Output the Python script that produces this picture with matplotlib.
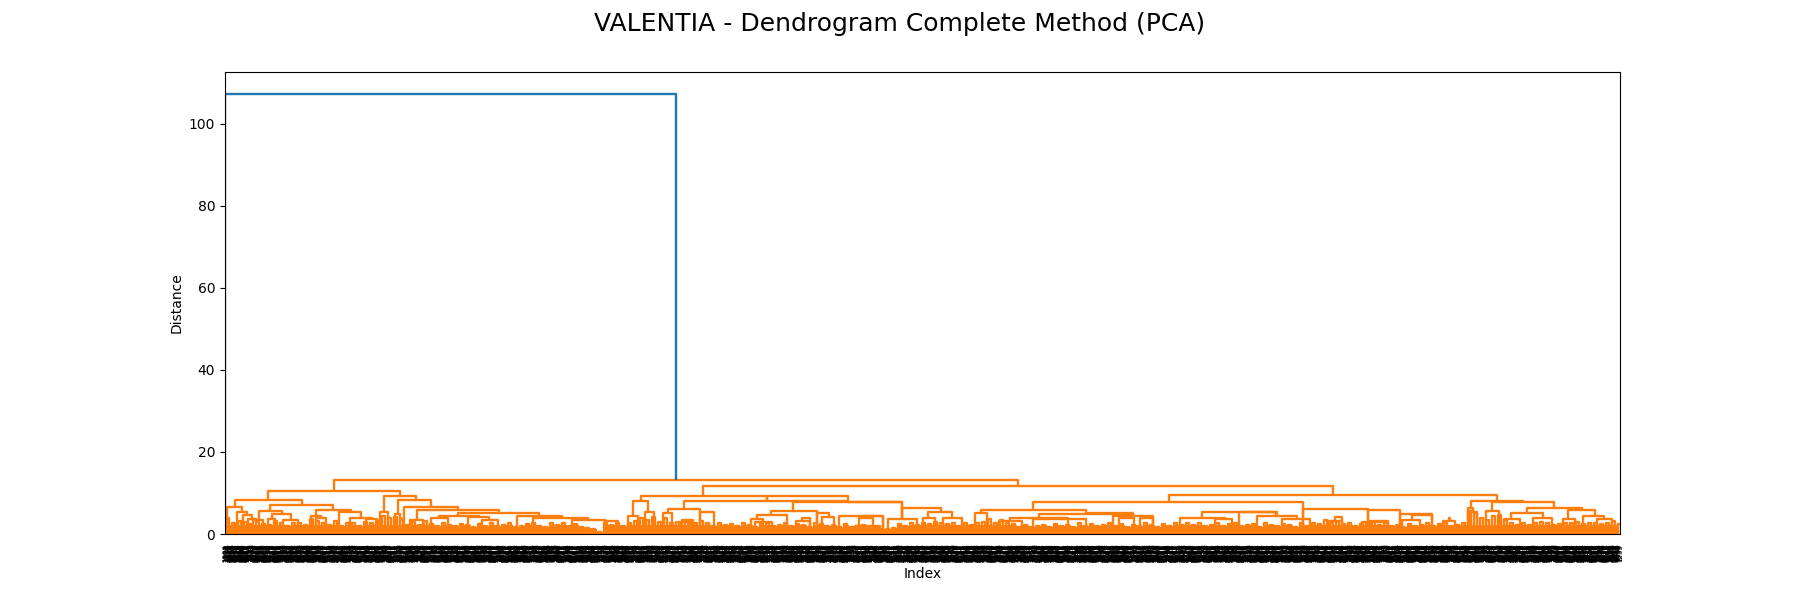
import numpy as np
import matplotlib
matplotlib.use('Agg')
import matplotlib.pyplot as plt
from matplotlib.collections import LineCollection

# all x values are leaf positions along the axis, one leaf = 10 axis units like scipy
n_leaves = 1395
# labels sit closer than the leaf unit, the band under the axis is nearly solid black
n_labels = 2790

# top link, the one above the colour threshold
top_link = [0, 451, 107.3]

# links: left leaf, right leaf, height
link_left = [109, 42.7, 10, 1.7, 45, 33.7, 90.7, 114, 158.7, 155.3, 172.7, 170, 179.3, 191.7, 185.3,
             233.3, 291.7, 214.3, 205.7, 242.7, 256.7, 308.3, 346.7, 380, 11.7, 18.3, 22.7, 28, 46.7,
             43.3, 58.3, 85.7, 90.7, 125, 141,
             477.7, 415.7, 407.7, 402.7, 420, 459, 442.7, 438, 475.3, 460.7, 455,
             567.7, 546, 531.7, 525.7, 530, 591.7, 577.3, 571, 596.7, 636, 614, 634, 663, 630, 676.7,
             703.3, 698, 718, 541.7, 622.7,
             944, 808.3, 756, 750, 861, 814, 785, 774, 808, 887.7, 894, 915,
             1078.3, 1014, 976.7, 955, 990, 1031.7, 1056.7, 1143.3, 1110, 1102.7, 1175, 1145, 1136.7,
             1186.7, 1176.7, 1224.3, 1218,
             1245.7, 1243.3, 1245, 1266.7, 1261, 1301.7, 1285.7, 1279, 1308, 1343, 1338, 1357.7, 1371.7]
link_right = [793, 175, 76.7, 17.3, 108.3, 57, 125.7, 136, 190.7, 162.7, 206, 175.3, 233.3, 274.3, 198.3,
              314.3, 336.7, 254.3, 223.3, 264.3, 272.7, 363.3, 380, 393, 22.3, 26.7, 31, 38, 66,
              50, 73.3, 95.7, 100.7, 146.7, 152,
              1108.3, 541.7, 423.3, 412.7, 429, 622.7, 475.3, 447, 489.3, 468, 468,
              676.7, 591.7, 561.7, 538.3, 546.7, 604.3, 585, 585, 609, 658.3, 658, 648, 691.7, 655, 716,
              727.3, 710, 736.7, 622.7, 676.7,
              1271.7, 1078.3, 861, 762.3, 908.3, 908.3, 843.3, 797, 861, 928.3, 909, 928,
              1143.3, 1051.7, 1051, 1000, 1006.7, 1071.7, 1085, 1175, 1116.7, 1116.7, 1206.7, 1163, 1163,
              1207, 1195, 1225, 1230,
              1298.3, 1248.3, 1252, 1329, 1274, 1356.7, 1318, 1295, 1327, 1370, 1350, 1379.3, 1387]
link_top = [13.25, 10.4, 8.4, 6.6, 7.0, 5.5, 5.85, 5.4, 9.2, 5.4, 8.2, 4.9, 6.7, 5.85, 3.4,
            5.0, 4.5, 4.5, 3.8, 4.1, 3.4, 3.8, 3.4, 3.2, 5.4, 4.6, 3.6, 3.4, 4.9,
            3.6, 3.5, 4.3, 3.8, 4.0, 3.7,
            11.8, 9.2, 8.0, 4.5, 5.4, 8.0, 6.2, 5.0, 5.4, 3.5, 3.0,
            7.7, 5.7, 4.7, 3.7, 3.0, 5.0, 4.0, 3.2, 4.2, 4.5, 4.4, 3.8, 3.7, 1.9, 6.3,
            5.3, 3.9, 4.0, 9.2, 7.9,
            9.6, 7.9, 5.9, 5.0, 5.0, 4.8, 4.0, 3.2, 3.6, 4.3, 3.9, 3.8,
            6.2, 5.3, 5.3, 4.0, 3.7, 4.5, 3.7, 5.85, 4.2, 3.2, 4.8, 3.2, 3.0,
            4.6, 3.4, 3.8, 3.2,
            8.1, 6.4, 5.4, 7.7, 5.7, 6.4, 5.0, 3.7, 3.8, 5.9, 3.7, 4.5, 3.7]

# jagged top of the dense part, one height for every 6 leaves
fine_width = 6
fine_h = [3.8, 2.6, 3.2, 3.0, 2.4, 3.0, 2.4, 2.2, 3.2, 2.6, 2.0, 2.6, 2.6, 2.2, 3.7, 3.2, 2.6, 2.2, 3.2, 2.0,
          2.6, 2.8, 2.0, 3.0, 2.6, 3.2, 4.5, 3.8, 4.2, 3.6, 2.2, 3.0, 2.2, 3.2, 2.4, 2.0, 2.6, 2.2, 2.0, 2.4,
          2.2, 1.8, 2.4, 2.0, 2.6, 1.9, 2.2, 2.6, 1.8, 2.0, 2.4, 2.8, 2.0, 1.8, 2.6, 2.2, 2.8, 2.0, 2.4,
          1.8, 1.5, 1.1, 0.6,
          2.6, 2.2, 2.8, 2.0, 2.6, 3.2, 4.0, 3.4, 4.2, 3.0, 3.8, 2.6, 3.0, 3.4, 2.4, 2.8, 3.2,
          2.6, 2.0, 2.8, 2.2, 2.4, 2.0, 2.6, 2.2, 1.8, 2.4, 2.8, 2.0, 2.2, 2.6, 2.0, 2.4, 2.2, 1.8, 2.6, 2.4,
          2.0, 2.2, 1.8, 2.4, 1.6, 1.9, 2.2, 1.4, 1.6, 1.3, 1.2, 1.4, 2.4, 2.0, 2.6, 2.2, 2.8, 2.4, 3.0, 2.6,
          2.4, 2.8, 2.0, 2.6, 2.2, 2.8, 3.0, 3.6, 2.6, 3.4, 2.8, 2.4, 1.8, 2.2, 1.6, 2.0, 2.2, 1.8, 2.4, 2.0,
          2.2, 1.8, 2.6, 2.0, 2.4, 1.9, 2.2, 2.6, 2.0, 2.4, 1.8, 2.2, 2.0, 2.6, 2.2, 1.8, 2.4, 2.0, 2.6, 2.2,
          2.8, 2.2, 2.6, 2.0, 2.2, 2.8, 2.0, 2.4, 2.6, 2.0, 2.2, 2.4, 1.8, 2.6, 2.2, 2.0, 2.4, 2.2, 1.8, 2.6,
          2.0, 2.8, 2.4, 3.4, 2.8, 3.0, 2.4, 2.6, 2.0, 2.4, 2.8, 3.0, 2.2, 2.6, 2.0, 2.2, 1.8, 2.4, 2.0, 2.2,
          2.6, 2.0, 2.4, 2.8, 2.0, 2.2, 2.6, 5.6, 5.0, 3.8, 3.4, 4.4, 4.6,
          3.4, 2.6, 2.2, 2.8, 2.2, 2.6, 3.0, 2.6, 2.2, 2.4, 2.8, 2.6, 3.0, 2.4, 2.6, 2.8, 2.4, 2.8, 3.2, 2.4]
# below this the picture is solid orange
solid_top = 2.1

# the leaf labels can't be read in the picture, they only make the black band,
# so just mixed up 4 digit numbers so the digits don't line up in stripes
leaf_labels = [str(1000 + (i * 397) % 9000) for i in range(n_labels)]

line_width = 1.7


def child_top(x, top):
    # height of the link hanging under a stem, 0 if it runs into the dense part
    best = 0
    for l, r, h in zip(link_left, link_right, link_top):
        if abs((l + r) / 2 - x) < 3 and h < top and h > best:
            best = h
    return best


def link_segment(l, r, h, lh, rh):
    return [(l * 10, lh), (l * 10, h), (r * 10, h), (r * 10, rh)]


fig, ax = plt.subplots(figsize=(18, 6))
fig.suptitle('VALENTIA - Dendrogram Complete Method (PCA)', fontsize=18)

segments = []
for l, r, h in zip(link_left, link_right, link_top):
    segments.append(link_segment(l, r, h, child_top(l, h), child_top(r, h)))

# small links on the jagged top
starts = np.arange(len(fine_h)) * fine_width
for s, h in zip(starts, fine_h):
    segments.append(link_segment(s + 1, s + 4, h, 0, 0))

ax.add_collection(LineCollection(segments, colors='C1', linewidths=line_width))
ax.fill_between(starts * 10, 0, np.minimum(fine_h, solid_top), step='post', color='C1', lw=0)

blue = link_segment(top_link[0], top_link[1], top_link[2], 0, link_top[0])
ax.add_collection(LineCollection([blue], colors='C0', linewidths=line_width))

ax.set_xlim(0, n_leaves * 10)
ax.set_ylim(0, top_link[2] * 1.05)

ax.set_xticks((np.arange(n_labels) + 0.5) * n_leaves * 10 / n_labels)
ax.set_xticklabels(leaf_labels, rotation=90, fontsize=5)
for line in ax.get_xticklines():
    line.set_visible(False)

ax.set_xlabel('Index')
ax.set_ylabel('Distance')

plt.savefig('out.png', dpi=100)
